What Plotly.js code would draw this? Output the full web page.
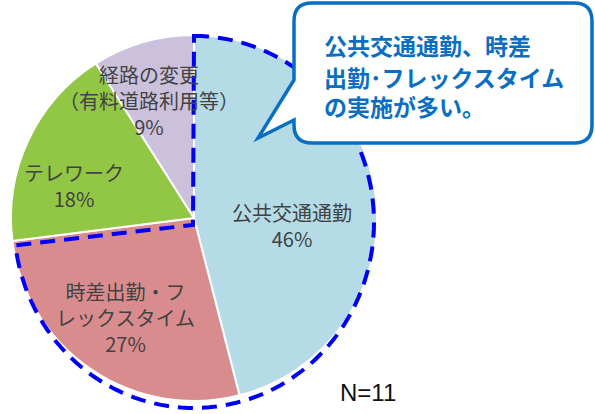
<!DOCTYPE html>
<html>
<head>
<meta charset="utf-8">
<script src="https://cdn.plot.ly/plotly-3.0.1.min.js"></script>
<style>
  html, body { margin: 0; padding: 0; background: #fff; }
  #chart { width: 595px; height: 414px; }
</style>
</head>
<body>
<div id="chart"></div>
<script>
// data (N=11)
var labels = ['公共交通通勤', '時差出勤・フレックスタイム', 'テレワーク', '経路の変更（有料道路利用等）'];
var labelLines = ['公共交通通勤', '時差出勤・フ<br>レックスタイム', 'テレワーク', '経路の変更<br>（有料道路利用等）'];
var values = [46, 27, 18, 9];
var sliceColors = ['#b5dbe6', '#d98c8e', '#91c744', '#cbc1dc'];
var sampleNote = 'N=11';
var calloutLines = ['公共交通通勤、時差', '出勤･フレックスタイム', 'の実施が多い。'];

// label anchors, in page pixels
var labelAt = [[292, 225], [125, 317], [74, 185], [149, 100]];

var W = 595, H = 414;
var cx = 194, cy = 218, R = 183;

var total = values.reduce(function(a, b) { return a + b; }, 0);

var annotations = [];
for (var i = 0; i < labels.length; i++) {
	var pct = Math.round(values[i] / total * 100);
	annotations.push({
		x: labelAt[i][0], y: labelAt[i][1], xref: 'x', yref: 'y',
		text: labelLines[i] + '<br>' + pct + '%',
		showarrow: false, align: 'center',
		font: {family: 'Noto Sans CJK JP', size: 20, color: '#424242'}
	});
}
// callout text, one line each
var lineY = [45, 77, 106];
for (var j = 0; j < calloutLines.length; j++) {
	annotations.push({
		x: 322, y: lineY[j], xref: 'x', yref: 'y', xanchor: 'left',
		text: '<b>' + calloutLines[j] + '</b>', showarrow: false,
		font: {family: 'Noto Sans CJK JP', size: 23, color: '#0a6fc2'}
	});
}
annotations.push({
	x: 338, y: 392, xref: 'x', yref: 'y', xanchor: 'left',
	text: sampleNote, showarrow: false,
	font: {family: 'Liberation Sans', size: 24, color: '#111'}
});

// dashed outline around the first two slices
var endAng = 360 * (values[0] + values[1]) / total * Math.PI / 180;
var ox = 194, oy = 222, rx = 180, ry = 186;
var dpath = 'M' + ox + ',' + (oy - ry);
for (var a = 0; a <= 120; a++) {
	var t = endAng * a / 120;
	dpath += ' L' + (ox + rx * Math.sin(t)).toFixed(1) + ',' + (oy - ry * Math.cos(t)).toFixed(1);
}
dpath += ' L193,225 Z';

// speech bubble
var x0 = 294, x1 = 592, y0 = 3, y1 = 143, r = 18;
var bpath = 'M' + (x0 + r) + ',' + y0 + ' L' + (x1 - r) + ',' + y0 +
	' Q' + x1 + ',' + y0 + ' ' + x1 + ',' + (y0 + r) +
	' L' + x1 + ',' + (y1 - r) + ' Q' + x1 + ',' + y1 + ' ' + (x1 - r) + ',' + y1 +
	' L' + (x0 + r) + ',' + y1 + ' Q' + x0 + ',' + y1 + ' ' + x0 + ',' + (y1 - r) +
	' L' + x0 + ',120 L258,138 L' + x0 + ',80' +
	' L' + x0 + ',' + (y0 + r) + ' Q' + x0 + ',' + y0 + ' ' + (x0 + r) + ',' + y0 + ' Z';

var pie = {
	type: 'pie',
	labels: labels,
	values: values,
	sort: false,
	direction: 'clockwise',
	rotation: 0,
	marker: {colors: sliceColors, line: {color: '#fff', width: 2}},
	textinfo: 'none',
	hoverinfo: 'label+percent',
	showlegend: false,
	domain: {x: [(cx - R) / W, (cx + R) / W], y: [1 - (cy + R) / H, 1 - (cy - R) / H]}
};
var dummy = {type: 'scatter', x: [], y: [], hoverinfo: 'skip', showlegend: false};

var layout = {
	width: W, height: H,
	margin: {l: 0, r: 0, t: 0, b: 0},
	paper_bgcolor: '#fff', plot_bgcolor: 'rgba(0,0,0,0)',
	showlegend: false,
	xaxis: {range: [0, W], visible: false, fixedrange: true},
	yaxis: {range: [H, 0], visible: false, fixedrange: true},
	shapes: [
		{type: 'path', xref: 'x', yref: 'y', path: dpath, layer: 'above',
			line: {color: '#0000f5', width: 4, dash: '15px,9px'}},
		{type: 'path', xref: 'x', yref: 'y', path: bpath, layer: 'above',
			fillcolor: '#fff', line: {color: '#0a6fc2', width: 3.5}}
	],
	annotations: annotations
};

Plotly.newPlot('chart', [pie, dummy], layout, {displayModeBar: false, staticPlot: true});
</script>
</body>
</html>
